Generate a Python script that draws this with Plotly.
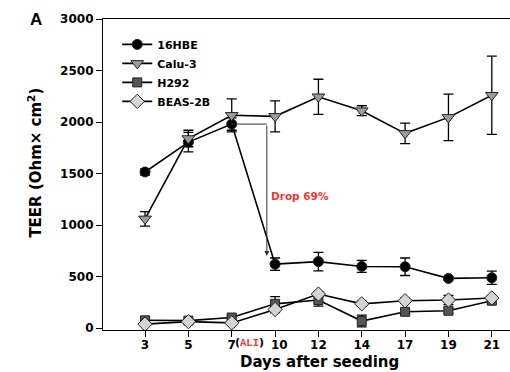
import plotly.graph_objects as go

# Days after seeding (evenly spaced categories on the x axis)
days = ["3", "5", "7", "10", "12", "14", "17", "19", "21"]

# TEER means and SD per cell line (Ohm x cm^2)
hbe16 = [1515, 1805, 1980, 620, 645, 598, 595, 482, 488]
hbe16_sd = [30, 95, 60, 60, 90, 58, 85, 15, 65]

calu3 = [1060, 1840, 2065, 2055, 2245, 2110, 1890, 2045, 2260]
calu3_sd = [70, 80, 160, 150, 170, 48, 100, 225, 380]

h292 = [75, 72, 102, 235, 272, 68, 158, 168, 265]
h292_sd = [20, 15, 20, 70, 60, 57, 25, 25, 20]

beas2b = [38, 62, 50, 180, 330, 235, 265, 272, 292]
beas2b_sd = [15, 15, 15, 30, 25, 25, 25, 45, 20]

y_ticks = [0, 500, 1000, 1500, 2000, 2500, 3000]

FONT = "DejaVu Sans"
idx = list(range(len(days)))
# the day-10 label sits a little right of its tick, clear of "(ALI)"
tick_text = ["\u00a0\u00a0" + d if d == "10" else d for d in days]

series = [
    ("16HBE", hbe16, hbe16_sd, "circle", "black", 10),
    ("Calu-3", calu3, calu3_sd, "triangle-down", "#9c9c9c", 11),
    ("H292", h292, h292_sd, "square", "#555555", 9),
    ("BEAS-2B", beas2b, beas2b_sd, "diamond", "#d4d4d4", 11),
]

fig = go.Figure()
for name, vals, sd, sym, fill, size in series:
    fig.add_trace(go.Scatter(
        x=idx, y=vals, name=name, mode="lines+markers",
        line=dict(color="black", width=1.6),
        marker=dict(symbol=sym, size=size, color=fill,
                    line=dict(color="#222222", width=1)),
        error_y=dict(type="data", array=sd, visible=True,
                     color="black", thickness=1.3, width=5),
    ))

# Drop annotation: bracket from the day-7 16HBE value down to day 10 level
x_drop = 2.81
fig.add_shape(type="line", x0=2, x1=x_drop, y0=hbe16[2], y1=hbe16[2],
              line=dict(color="#333333", width=1))
fig.add_annotation(x=x_drop, y=700, ax=x_drop, ay=hbe16[2],
                   xref="x", yref="y", axref="x", ayref="y",
                   showarrow=True, arrowhead=2, arrowsize=1, arrowwidth=1,
                   arrowcolor="#333333", text="")
drop_pct = round((hbe16[2] - hbe16[3]) / hbe16[2] * 100)
fig.add_annotation(x=x_drop + 0.05, y=1280, xref="x", yref="y",
                   xanchor="left", yanchor="middle", showarrow=False,
                   text=f"Drop {drop_pct}%",
                   font=dict(family=FONT, size=10.5, color="#ff3333", weight="bold"))

# "(ALI)" marker right after the day-7 tick label
fig.add_annotation(x=2, y=0, xref="x", yref="paper", xanchor="left",
                   yanchor="middle", xshift=2, yshift=-12.5, showarrow=False,
                   borderpad=0,
                   text="(<span style='color:#ff3333;font-family:Liberation Mono;font-size:10.5px'>ALI</span>)",
                   font=dict(family=FONT, size=11, color="black", weight="bold"))

# Panel letter
fig.add_annotation(x=-0.145, y=1.0, xref="paper", yref="paper",
                   xanchor="right", yanchor="middle", showarrow=False,
                   text="A", font=dict(family="Liberation Sans", size=17,
                                       color="black", weight="bold"))

# Axis titles
fig.add_annotation(x=0.533, y=-0.103, xref="paper", yref="paper",
                   xanchor="center", yanchor="middle", showarrow=False,
                   text="Days after seeding",
                   font=dict(family=FONT, size=15, color="black", weight="bold"))
fig.add_annotation(x=-0.168, y=0.537, xref="paper", yref="paper",
                   xanchor="center", yanchor="middle", showarrow=False,
                   textangle=-90, text="TEER (Ohm× cm<sup>2</sup>)",
                   font=dict(family=FONT, size=15, color="black", weight="bold"))

fig.update_layout(
    width=510, height=372,
    margin=dict(l=103, r=0, t=19, b=42),
    plot_bgcolor="white", paper_bgcolor="white",
    showlegend=True,
    legend=dict(x=0.035, y=0.965, xanchor="left", yanchor="top",
                bgcolor="rgba(0,0,0,0)",
                font=dict(family=FONT, size=11, color="black", weight="bold"),
                itemwidth=30),
    font=dict(family=FONT, color="black"),
)
fig.update_xaxes(
    range=[-0.97, 8.42], tickmode="array", tickvals=idx, ticktext=tick_text,
    showline=True, linecolor="black", linewidth=1.2, mirror=True,
    ticks="outside", ticklen=6, tickcolor="black", tickwidth=1,
    ticklabelstandoff=-3,
    showgrid=False, zeroline=False,
    tickfont=dict(family=FONT, size=12, color="black", weight="bold"),
)
fig.update_yaxes(
    range=[-19, 3000], tickmode="array", tickvals=y_ticks,
    showline=True, linecolor="black", linewidth=1.2,
    ticks="outside", ticklen=6, tickcolor="black", tickwidth=1,
    showgrid=False, zeroline=False,
    tickfont=dict(family=FONT, size=12, color="black", weight="bold"),
)

fig.write_html("out.html")
